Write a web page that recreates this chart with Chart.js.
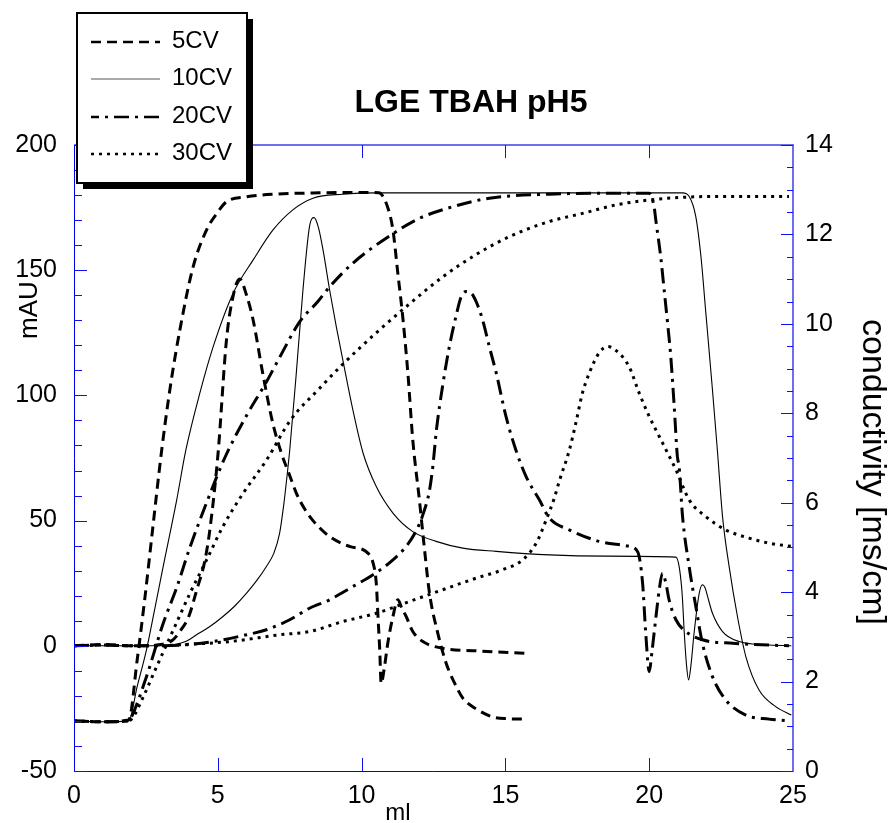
<!DOCTYPE html>
<html>
<head>
<meta charset="utf-8">
<script src="https://cdn.jsdelivr.net/npm/chart.js@4"></script>
<style>
  html, body { margin: 0; padding: 0; background: #fff; }
</style>
</head>
<body>
<canvas id="chart" width="891" height="823"></canvas>
<script>
// elution volume (ml) and readings for each gradient length
// UV absorbance in mAU, conductivity in ms/cm

const uv5_ml   = [0, 1, 2, 2.5, 3.0, 3.4, 3.7, 4.0, 4.26, 4.55, 4.72, 5.01, 5.3, 5.53, 5.76, 6.0, 6.23, 6.56, 6.91, 7.21, 7.5, 7.73, 8.0, 8.31, 8.89, 9.58, 10.22, 10.4, 10.51, 10.57, 10.63, 10.68, 10.8, 10.91, 11.09, 11.26, 11.4, 11.55, 11.78, 12.13, 12.82, 13.98, 15.66];
const uv5_mAU  = [0, 0.5, 0, 0, 0.5, 2, 6, 12, 22, 34, 46, 77, 122, 139.5, 146.5, 140, 130, 109, 89, 77, 68, 61, 55, 50, 43.6, 39.7, 37, 33, 25, 11.7, -1.6, -15, -8, 1, 11.7, 18.4, 15, 11.7, 5.7, 1.7, -1, -2, -3];

const cond5_ml = [0, 1.0, 1.9, 2.2, 2.47, 2.75, 3.05, 3.35, 3.68, 4.14, 4.61, 5.0, 5.3, 6.0, 7.0, 8.54, 10.0, 10.6, 10.9, 11.09, 11.26, 11.43, 11.61, 11.78, 12.01, 12.19, 12.36, 12.65, 12.94, 13.23, 13.52, 13.98, 14.56, 15.1, 15.66];
const cond5_ms = [1.12, 1.1, 1.14, 2.5, 3.9, 5.5, 7.18, 8.6, 9.86, 11.27, 12.1, 12.5, 12.73, 12.84, 12.9, 12.93, 12.94, 12.93, 12.62, 12.1, 11.13, 10.16, 8.89, 7.4, 6.06, 4.94, 3.98, 3.08, 2.41, 1.97, 1.63, 1.39, 1.21, 1.17, 1.16];

const uv10_ml  = [0, 1, 2, 3, 3.5, 3.9, 4.26, 4.7, 5.18, 5.6, 6.0, 6.35, 6.69, 6.95, 7.15, 7.3, 7.38, 7.5, 7.73, 7.96, 8.19, 8.35, 8.5, 8.66, 8.89, 9.12, 9.35, 9.70, 10.05, 10.51, 11.09, 11.78, 12.59, 13.52, 14.68, 16.53, 18.5, 20.93, 21.05, 21.15, 21.22, 21.3, 21.37, 21.45, 21.56, 21.74, 21.85, 21.95, 22.03, 22.2, 22.55, 23.13, 24.05, 24.94];
const uv10_mAU = [0, 0, 0, 0, 0.5, 1.8, 4.4, 7.5, 11.7, 16, 21, 26, 31.7, 37, 45, 57, 65, 78, 109, 142, 167.5, 171, 167, 158, 142, 127.5, 114, 94, 77, 63.6, 53, 45.6, 41.7, 39, 37.7, 36.3, 35.8, 35.4, 31, 20, 5, -8, -13.6, -8, 5, 21, 24.4, 23, 19.7, 13, 5.7, 1.7, 0.4, 0];

const cond10_ml = [0, 1.0, 1.9, 2.2, 2.52, 2.8, 3.10, 3.57, 3.89, 4.375, 4.84, 5.53, 6.23, 6.92, 7.61, 8.31, 9.35, 10.51, 12, 15, 18, 21.16, 21.39, 21.62, 21.8, 21.97, 22.2, 22.37, 22.55, 22.78, 23.07, 23.36, 23.82, 24.4, 24.94];
const cond10_ms = [1.12, 1.1, 1.12, 1.9, 2.71, 3.6, 4.57, 6.06, 7.18, 8.45, 9.49, 10.68, 11.43, 12.1, 12.55, 12.81, 12.9, 12.93, 12.93, 12.93, 12.93, 12.93, 12.85, 12.4, 11.5, 10.24, 8.52, 7.18, 5.69, 4.57, 3.45, 2.56, 1.81, 1.44, 1.25];

const uv20_ml  = [0, 1, 2, 3, 4, 4.84, 6.0, 6.69, 7.5, 8.19, 8.89, 9.70, 10.4, 11.09, 11.55, 11.9, 12.15, 12.36, 12.48, 12.6, 12.82, 13.06, 13.29, 13.45, 13.63, 13.8, 14.0, 14.21, 14.44, 14.68, 15.02, 15.37, 15.72, 16.18, 16.53, 17.22, 18.26, 19.3, 19.6, 19.77, 19.88, 20.0, 20.1, 20.17, 20.35, 20.46, 20.58, 20.69, 20.93, 21.27, 21.85, 22.9, 24.86];
const uv20_mAU = [0, 0.3, 0, 0, 0.5, 1.7, 4.4, 6.4, 10.4, 15, 18.4, 23.7, 28.4, 34.3, 39.7, 46, 53, 62, 72, 86, 104, 120, 132, 139, 141.5, 141, 137, 130, 119.5, 109, 91.6, 78, 67.6, 58.3, 51, 46.3, 41.7, 39.7, 37.5, 25, 5, -10.3, -2, 5, 22.4, 29, 25, 18.4, 10.4, 5.7, 2.4, 1, 0];

const cond20_ml = [0, 1, 1.9, 2.0, 2.52, 3.10, 3.57, 4.03, 4.61, 5.24, 6.0, 6.69, 7.15, 7.85, 8.48, 8.89, 9.70, 11.03, 12.01, 13.17, 14.44, 16.53, 18.5, 20.0, 20.17, 20.23, 20.4, 20.52, 20.64, 20.75, 20.87, 20.98, 21.04, 21.16, 21.39, 21.62, 21.85, 22.2, 22.66, 23.36, 24.17, 24.86];
const cond20_ms = [1.12, 1.1, 1.12, 1.21, 2.11, 3.30, 4.1, 5.0, 6.0, 7.0, 7.95, 8.7, 9.25, 10.05, 10.5, 10.83, 11.36, 11.99, 12.36, 12.62, 12.81, 12.9, 12.92, 12.92, 12.62, 12.32, 11.5, 10.76, 10.01, 9.27, 8.15, 7.03, 6.81, 5.69, 4.57, 3.68, 2.86, 2.11, 1.59, 1.25, 1.16, 1.12];

const uv30_ml  = [0, 1, 2, 3, 3.68, 5.42, 7.15, 8.19, 9.35, 10.51, 11.67, 12.82, 13.98, 14.91, 15.6, 16.07, 16.41, 16.7, 16.88, 17.22, 17.45, 17.68, 17.92, 18.26, 18.55, 18.84, 19.3, 19.65, 20.0, 20.35, 20.64, 20.93, 21.39, 21.97, 22.66, 23.47, 24.17, 24.94];
const uv30_mAU = [0, 0.3, 0, 0, 0.4, 1.7, 4.4, 5.7, 9.7, 13, 17.7, 22.4, 27, 30.4, 34.3, 41, 50, 59, 66, 78, 89, 101, 109, 117, 119.5, 118, 111.5, 101, 91.6, 83.6, 77, 70.3, 58.3, 51.6, 46.3, 43, 41, 39.7];

const cond30_ml = [0, 1, 1.9, 2.05, 2.41, 2.87, 3.45, 4.03, 4.61, 5.18, 5.88, 6.69, 7.53, 8.54, 9.35, 10.51, 11.67, 12.82, 13.98, 15.14, 16.53, 17.68, 18.84, 20.0, 21.16, 22.5, 24.86];
const cond30_ms = [1.12, 1.1, 1.12, 1.2, 1.66, 2.33, 3.15, 3.97, 4.72, 5.47, 6.21, 6.95, 7.85, 8.56, 9.1, 9.8, 10.45, 11.05, 11.55, 11.95, 12.29, 12.47, 12.66, 12.77, 12.83, 12.85, 12.85];

const runNames = ['5CV', '10CV', '20CV', '30CV'];
const xTicks = [0, 5, 10, 15, 20, 25];

// line look of each run, shared by its UV and conductivity trace
const runStyle = {
  '5CV':  { dash: [10, 6], width: 3, color: '#000' },
  '10CV': { dash: [], width: 1.1, color: '#000' },
  '20CV': { dash: [15, 6, 3, 6], width: 3, color: '#000' },
  '30CV': { dash: [3, 5], width: 3, color: '#000' }
};

const FONT = '"Liberation Sans", Arial, sans-serif';

function pts(xs, ys) {
  return xs.map((x, i) => ({ x: x, y: ys[i] }));
}

function trace(run, xs, ys, axis) {
  const s = runStyle[run];
  return {
    label: run,
    data: pts(xs, ys),
    yAxisID: axis,
    borderColor: s.color,
    borderWidth: s.width,
    borderDash: s.dash,
    pointRadius: 0,
    fill: false,
    cubicInterpolationMode: 'monotone'
  };
}

const datasets = [
  trace('5CV', uv5_ml, uv5_mAU, 'y'),
  trace('5CV', cond5_ml, cond5_ms, 'y2'),
  trace('10CV', uv10_ml, uv10_mAU, 'y'),
  trace('10CV', cond10_ml, cond10_ms, 'y2'),
  trace('20CV', uv20_ml, uv20_mAU, 'y'),
  trace('20CV', cond20_ml, cond20_ms, 'y2'),
  trace('30CV', uv30_ml, uv30_mAU, 'y'),
  trace('30CV', cond30_ml, cond30_ms, 'y2')
];

// frame, inward ticks, titles and the boxed legend
const decor = {
  id: 'decor',
  afterDraw(chart) {
    const ctx = chart.ctx;
    const a = chart.chartArea;
    const xs = chart.scales.x, yl = chart.scales.y, yr = chart.scales.y2;
    ctx.save();
    ctx.setLineDash([]);

    // left + bottom axis lines
    ctx.strokeStyle = '#0000f0';
    ctx.lineWidth = 1;
    ctx.beginPath();
    ctx.moveTo(a.left + 0.5, a.top);
    ctx.lineTo(a.left + 0.5, a.bottom + 0.5);
    ctx.lineTo(a.right, a.bottom + 0.5);
    ctx.stroke();
    // top + right border
    ctx.strokeStyle = '#6e6ef2';
    ctx.lineWidth = 2;
    ctx.beginPath();
    ctx.moveTo(a.left, a.top);
    ctx.lineTo(a.right, a.top);
    ctx.lineTo(a.right, a.bottom + 1);
    ctx.stroke();

    ctx.strokeStyle = '#1010f0';
    ctx.lineWidth = 1;
    ctx.beginPath();
    for (let v = -50; v <= 200; v += 10) {
      const p = Math.round(yl.getPixelForValue(v)) + 0.5;
      ctx.moveTo(a.left, p);
      ctx.lineTo(a.left + (v % 50 === 0 ? 13 : 8), p);
    }
    for (let v = 0; v <= 14; v += 0.5) {
      const p = Math.round(yr.getPixelForValue(v)) + 0.5;
      ctx.moveTo(a.right, p);
      ctx.lineTo(a.right - (v % 2 === 0 ? 12 : 6), p);
    }
    xTicks.slice(1, -1).forEach(v => {
      const p = Math.round(xs.getPixelForValue(v)) + 0.5;
      ctx.moveTo(p, a.bottom);
      ctx.lineTo(p, a.bottom - 13);
      ctx.moveTo(p, a.top);
      ctx.lineTo(p, a.top + 13);
    });
    ctx.stroke();

    ctx.fillStyle = '#000';
    ctx.font = 'bold 32px ' + FONT;
    ctx.textAlign = 'center';
    ctx.textBaseline = 'alphabetic';
    ctx.fillText('LGE TBAH pH5', 471, 112);

    ctx.font = '24px ' + FONT;
    ctx.fillText('ml', 398, 820);

    ctx.save();
    ctx.translate(30, 310);
    ctx.rotate(-Math.PI / 2);
    ctx.font = '26px ' + FONT;
    ctx.textBaseline = 'middle';
    ctx.fillText('mAU', 0, 0);
    ctx.restore();

    ctx.save();
    ctx.translate(872, 472);
    ctx.rotate(Math.PI / 2);
    ctx.font = '34px ' + FONT;
    ctx.textBaseline = 'middle';
    ctx.fillText('conductivity [ms/cm]', 0, 0);
    ctx.restore();

    // legend box with drop shadow
    ctx.fillStyle = '#000';
    ctx.fillRect(83, 19, 170, 170);
    ctx.fillStyle = '#fff';
    ctx.fillRect(77, 13, 170, 170);
    ctx.strokeStyle = '#000';
    ctx.lineWidth = 2;
    ctx.strokeRect(77, 13, 170, 170);

    const rows = [42, 79, 117, 154];
    runNames.forEach((name, i) => {
      const s = runStyle[name];
      ctx.strokeStyle = name === '10CV' ? '#555' : s.color;
      ctx.lineWidth = name === '10CV' ? 1 : 2.6;
      ctx.setLineDash(s.dash);
      ctx.lineDashOffset = name === '20CV' ? 7 : 0;
      ctx.beginPath();
      ctx.moveTo(91, rows[i]);
      ctx.lineTo(160, rows[i]);
      ctx.stroke();
      ctx.setLineDash([]);
      ctx.fillStyle = '#000';
      ctx.font = '24px ' + FONT;
      ctx.textAlign = 'left';
      ctx.textBaseline = 'middle';
      ctx.fillText(name, 172, rows[i] - 1);
    });
    ctx.restore();
  }
};

const tickFont = { family: FONT, size: 25 };

new Chart(document.getElementById('chart'), {
  type: 'line',
  data: { datasets: datasets },
  options: {
    responsive: false,
    animation: false,
    devicePixelRatio: 1,
    layout: { padding: { top: 145, left: 0, right: 0, bottom: 0 } },
    plugins: { legend: { display: false }, title: { display: false }, tooltip: { enabled: false } },
    scales: {
      x: {
        type: 'linear', min: 0, max: 25,
        afterBuildTicks: s => { s.ticks = xTicks.map(v => ({ value: v })); },
        ticks: { font: tickFont, color: '#000', padding: 10, maxRotation: 0 },
        grid: { display: false, drawTicks: false },
        border: { display: false },
        afterFit: s => { s.height = 52; }
      },
      y: {
        position: 'left', min: -50, max: 200,
        ticks: { stepSize: 50, font: tickFont, color: '#000', padding: 17 },
        grid: { display: false, drawTicks: false },
        border: { display: false },
        afterFit: s => { s.width = 74; }
      },
      y2: {
        position: 'right', min: 0, max: 14,
        ticks: { stepSize: 2, font: tickFont, color: '#000', padding: 12 },
        grid: { display: false, drawTicks: false },
        border: { display: false },
        afterFit: s => { s.width = 98; }
      }
    }
  },
  plugins: [decor]
});
</script>
</body>
</html>
